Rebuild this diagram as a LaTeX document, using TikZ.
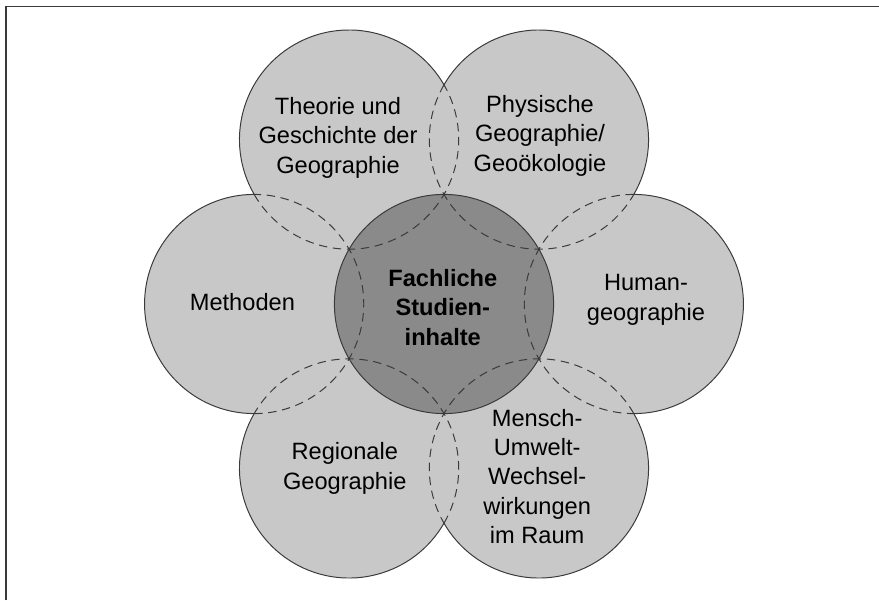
\documentclass[tikz,border=0pt]{standalone}
\usepackage{fontspec}
\setmainfont{Liberation Sans}
\definecolor{petalgray}{HTML}{C8C8C8}
\definecolor{coregray}{HTML}{8A8A8A}
\definecolor{rimgray}{HTML}{3A3A3A}
\tikzset{
	petal/.style={circle, inner sep=0pt, minimum size=5.48cm, fill=petalgray},
	core/.style={circle, inner sep=0pt, minimum size=5.48cm, fill=coregray},
	rim/.style={draw=rimgray, line width=0.7pt},
	seam/.style={rim, dash pattern=on 6pt off 4pt},
	caption/.style={align=center, text=black, font=\fontsize{16.8}{20.9}\selectfont},
	frame/.style={draw=rimgray, line width=1.4pt}
}
\begin{document}
\begin{tikzpicture}
	\def\R{2.74}
	\def\d{4.746}
	\useasboundingbox (-11.1,-7.4) rectangle (10.875,7.6);
	% Frame
	\draw[frame] (-10.96,-7.4) -- (-10.96,7.4375) -- (10.875,7.4375);
	% Petals
	\foreach \a/\n in {0/human,60/physisch,120/theorie,180/methoden,240/regional,300/mensch}
		\node[petal] (\n) at (\a:\d) {};
	% Core
	\node[core] (kern) at (0,0) {};
	% Outlines: outer half solid, inner half dashed
	\foreach \a/\n in {0/human,60/physisch,120/theorie,180/methoden,240/regional,300/mensch}{
		\draw[rim] (\n.center) ++(\a-90:\R) arc[start angle=\a-90, delta angle=180, radius=\R];
		\draw[seam] (\n.center) ++(\a+90:\R) arc[start angle=\a+90, delta angle=180, radius=\R];
	}
	\draw[rim] (kern.center) circle[radius=\R];
	% Labels
	\node[caption] (theorieText) at (-2.65,4.16) {Theorie und\\Geschichte der\\Geographie};
	\node[caption] (physischText) at (2.4,4.21) {Physische\\Geographie/\\Geoökologie};
	\node[caption] (methodenText) at (-5.04,0.06) {Methoden};
	\node[caption] (humanText) at (5.05,0.1) {Human-\\geographie};
	\node[caption] (regionalText) at (-2.48,-4.11) {Regionale\\Geographie};
	\node[caption] (menschText) at (2.33,-4.31) {Mensch-\\Umwelt-\\Wechsel-\\wirkungen\\im Raum};
	\node[caption, font=\fontsize{16.8}{20.9}\selectfont\bfseries] (kernText) at (-0.03,-0.08) {Fachliche\\Studien-\\inhalte};
\end{tikzpicture}
\end{document}
